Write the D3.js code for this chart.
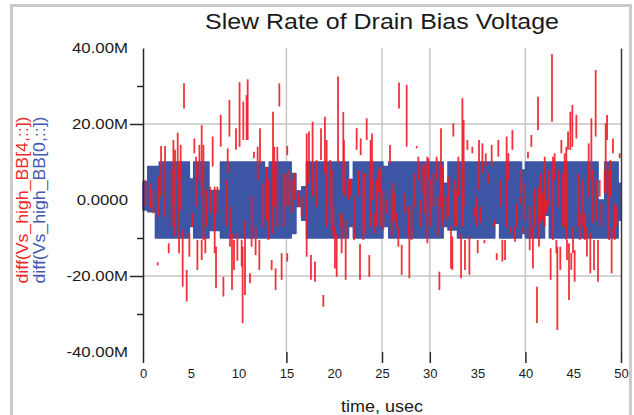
<!DOCTYPE html>
<html>
<head>
<meta charset="utf-8">
<script src="https://cdn.jsdelivr.net/npm/d3@7"></script>
<style>
  body { margin: 0; background: #fff; }
  svg { display: block; font-family: Arial, "Liberation Sans", sans-serif; }
</style>
</head>
<body>
<div id="chart"></div>
<script>
// time in usec, values in M (x1e6)
const xTickLabels = [0, 5, 10, 15, 20, 25, 30, 35, 40, 45, 50];
const xTickMarks = [0, 15, 25, 30, 40, 50];
const xGrid = [15, 25, 30, 40];
const yLabelTicks = [40, 20, 0, -20, -40];
const yLabelText = ["40.00M", "20.00M", "0.0000", "-20.00M", "-40.00M"];
const yMajor = [20, -20];
const yMinor = [30, -10, -30];
const yGrid = [20, -20];

// diff(Vs_high_BB[0,::]) - envelope of the dense blue trace
const blueT  = [0, 0.5, 1.3, 1.7, 4.85, 5.3, 6.9, 8.1, 12.7, 13.2, 15.5, 16.0, 16.6, 17.1, 21.5, 22.0, 25.1, 25.7, 31.4, 31.9, 32.9, 36.8, 37.3, 39.6, 40.0, 42.0, 42.5, 47.6, 48.3, 49.7, 50];
const blueHi = [4.8, 8.8, 8.8, 10, 5.5, 10, 2.5, 10, 8.5, 10, 7.0, 2.4, 3.5, 10, 5.3, 10, 8.8, 10, 4.4, 10, 10, 10, 10, 7.9, 10, 10, 10, 0, 10, 4.4, 4.4];
const blueLo = [-2.6, -3.1, -10, -10, -7, -10, -8, -10, -10, -10, -8.8, -1.7, -5.3, -10, -7, -10, -7, -10, -7, -7.9, -10, -6.1, -10, -8.8, -10, -4, -10, -10, -10, -5.3, -5.3];

// diff(Vs_high_BB[4,::]) - red spikes: time, top, bottom
const redT = [0.25, 0.74, 1.08, 1.54, 1.61, 1.89, 2.31, 2.69, 3.0, 3.18, 3.35, 3.63, 3.77, 3.94, 4.15, 4.29, 4.57, 4.85, 5.16, 5.37,
  5.55, 5.69, 5.9, 6.14, 6.14, 6.32, 6.52, 6.66, 7.01, 7.29, 7.5, 7.64, 7.78, 8.13, 8.41, 8.69, 8.86, 9.04, 9.1, 9.31,
  9.52, 9.73, 9.87, 10.1, 10.32, 10.42, 10.49, 10.67, 10.84, 10.95, 11.19, 11.36, 11.61, 11.78, 11.99, 12.17, 12.24, 12.58, 12.93, 13.11,
  13.46, 13.6, 13.73, 13.87, 14.05, 14.26, 14.5, 14.71, 14.92, 15.09, 15.09, 15.3, 15.55, 15.83, 16.25, 16.59, 17.12, 17.36, 17.57, 17.74,
  17.99, 18.16, 18.62, 18.86, 19.03, 19.21, 19.56, 19.73, 19.91, 20.08, 20.26, 20.4, 20.61, 20.78, 20.95, 21.02, 21.2, 21.48, 21.72, 22.07,
  22.35, 22.52, 22.7, 22.77, 23.05, 23.22, 23.4, 23.67, 23.81, 23.95, 24.16, 24.44, 24.62, 24.79, 25.14, 25.42, 25.84, 26.01, 26.19, 26.36,
  26.53, 26.71, 26.78, 27.06, 27.41, 27.58, 27.75, 27.86, 28.1, 28.45, 28.63, 28.8, 28.97, 29.15, 29.5, 29.74, 29.85, 30.13, 30.37, 30.72,
  30.83, 31.0, 31.17, 31.31, 31.66, 31.94, 32.22, 32.36, 32.46, 32.64, 32.81, 32.99, 33.27, 33.41, 33.54, 33.68, 33.93, 34.14, 34.45, 34.73,
  34.9, 35.01, 35.15, 35.29, 35.5, 35.71, 35.85, 36.13, 36.47, 36.75, 37.0, 37.17, 37.45, 37.59, 37.87, 38.04, 38.22, 38.39, 38.64, 38.91,
  39.09, 39.44, 39.57, 39.79, 39.82, 40.27, 40.45, 40.62, 40.79, 40.97, 41.21, 41.32, 41.42, 41.56, 41.77, 42.02, 42.19, 42.47, 42.64, 42.78,
  42.89, 43.06, 43.24, 43.34, 43.51, 43.65, 43.76, 43.93, 44.11, 44.28, 44.35, 44.46, 44.56, 44.7, 44.8, 44.91, 44.98, 45.15, 45.33, 45.5,
  45.68, 46.03, 46.2, 46.44, 46.62, 46.79, 46.9, 47.07, 47.18, 47.35, 47.49, 47.59, 47.77, 47.94, 48.29, 48.4, 48.54, 48.75, 48.88, 49.02,
  49.16, 49.34, 49.58, 49.86];
const redHi = [5.3, 4.4, 2.6, -16.4, 6.1, 14.2, 14.2, -11.4, 7.9, 15.8, 13.2, 17.7, 9.7, 14.5, -7.9, 30.7, -18.4, -8.8, -3.5, 16.2,
  11.4, -10.5, 14.5, 19.7, -10.5, 14.5, -9.6, 2.6, 3.5, 16.7, 3.5, -12.3, 3.5, 22.4, -20.2, 5.3, 13.6, 26.3, -1.75, -8.8,
  -10.5, 18.9, -8.8, 31.0, -10.5, -12.3, 25.9, -5.3, 27.6, 31.75, -19.3, 0.9, 12.7, -7.0, 14.0, -10.5, 18.9, 4.4, 8.8, 5.3,
  -15.8, 23.2, 14.0, -18.0, 14.0, 30.7, -14.0, 7.0, 7.0, 14.2, -14.0, 7.9, 5.3, 7.0, 2.6, 0.9, 17.5, 18.0, -14.5, 20.6,
  -16.2, 10.5, 18.9, -25.0, 21.9, 15.8, 10.5, 7.9, -1.75, -7.0, -8.8, 32.5, -3.5, -3.5, 23.2, 15.8, -5.3, 5.3, 5.7, 0.9,
  18.9, 7.9, -11.6, 16.2, 7.0, 7.0, 21.5, -14.5, 15.8, 17.5, -3.5, 5.3, 7.9, 8.8, 2.6, 0, 14.5, 2.6, 4.4, 1.8,
  -3.5, -7.0, 30.9, -11.8, 1.8, 30.3, -1.75, -7.0, -1.75, 7.0, 14.2, 11.4, 0, 8.8, 9.7, 11.4, 11.0, 5.3, 7.0, 11.4,
  0.9, -18.85, 18.9, 8.8, 0.9, 6.1, -7.0, -9.6, 20.2, 5.3, 2.6, 11.4, -8.8, 26.8, 21.1, -10.5, 15.8, -9.6, 14.0, -1.75,
  0.9, -10.5, 15.8, -1.75, 14.9, -10.5, 12.3, 7.0, 14.5, -5.3, -14.0, 15.8, 5.3, -10.5, -10.5, 16.7, 12.3, -7.0, 18.4, -7.0,
  -0.9, 0.9, 7.9, -7.0, 4.4, 12.7, -1.75, 17.1, -7.0, 3.1, -22.8, 27.2, 3.5, 7.0, 1.8, 11.4, 0, 7.9, -12.7, 38.4,
  11.4, 12.3, -10.5, -12.3, 7.9, -12.3, 15.8, 7.0, 12.3, 14.0, -10.5, 18.0, -11.4, 23.2, -14.0, 25.0, -7.0, -13.2, 22.4, 7.0,
  -3.5, 5.3, -3.5, -7.0, 14.9, -8.8, 21.5, 7.9, -10.5, 34.2, 5.3, -10.5, 5.3, -0.9, 7.9, 20.2, 22.4, 7.9, 10.5, -7.0,
  16.2, -0.9, -1.75, 12.3];
const redLo = [-1.75, -2.2, -3.5, -17.2, -4.4, 0.9, -4.4, -14.0, -7.0, -0.9, -9.6, 5.3, -14.0, -2.6, -22.8, 24.1, -26.7, -14.9, -7.0, 12.3,
  -1.75, -18.4, 5.3, 0.9, -15.8, -10.5, -14.0, -7.0, -3.5, 8.8, -14.0, -23.2, -3.5, 14.0, -25.4, -7.0, 7.0, 16.7, -12.3, -23.7,
  -18.4, 13.2, -16.0, 14.0, -17.5, -32.4, 15.8, -25.0, 15.8, 15.8, -21.9, -12.3, 11.0, -14.5, 5.3, -18.4, 9.7, -7.0, -5.3, -10.5,
  -18.4, -8.8, -1.75, -23.7, -7.0, 24.6, -21.0, -7.0, -1.75, 11.8, -16.2, -1.75, -3.5, 0, -1.75, -4.4, -14.9, 4.4, -21.0, 0.9,
  -21.5, -1.75, 10.5, -28.1, 7.0, -7.0, -1.75, -7.9, -9.6, -18.0, -20.2, 9.7, -7.0, -14.0, 1.8, 0.9, -21.0, 0, 0.9, -10.5,
  13.2, 0.9, -21.0, 11.8, -10.5, -8.8, 15.8, -20.2, -7.0, 0, -8.8, -7.0, 1.8, -7.0, -7.9, -3.5, 9.7, -9.6, -6.1, -5.3,
  -7.0, -12.3, 24.1, -19.7, -3.5, 14.0, -9.6, -20.6, -10.5, -1.75, 13.6, 5.3, -7.0, 1.8, -3.5, -11.4, 5.3, -7.0, -1.75, 5.3,
  -9.6, -23.7, -1.75, -7.0, -5.3, -4.4, -18.0, -18.4, 16.7, -7.0, -7.0, 0.9, -20.6, -7.0, -1.75, -18.4, 13.2, -19.7, 12.3, -4.4,
  -7.0, -14.0, 2.6, -6.1, 7.0, -11.4, 8.8, 4.4, 8.8, -7.0, -15.8, 11.4, -1.75, -16.2, -15.8, -7.0, 5.3, -8.8, 13.2, -11.0,
  -7.0, -0.9, 1.8, -8.8, -5.3, 11.0, -13.2, 14.0, -18.0, -7.0, -32.4, 18.4, -12.3, -6.1, -5.3, -7.0, -3.5, -1.75, -21.0, 20.6,
  -10.5, 5.3, -14.0, -34.2, -1.75, -18.4, 12.3, -7.0, -7.0, -10.5, -15.8, 13.2, -26.3, 13.2, -18.4, 14.0, -14.0, -21.5, 16.2, -7.0,
  -10.5, -7.0, -10.5, -14.9, 0.9, -19.3, 5.3, -6.1, -18.4, 16.7, -5.3, -21.5, 0.9, -7.0, 1.8, 1.8, 15.8, -10.5, 0.9, -19.3,
  12.3, -10.5, -7.0, 11.0];

const W = 634, H = 415;
const margin = { top: 48, right: 13, bottom: 63, left: 143 };
const width = W - margin.left - margin.right,
    height = H - margin.top - margin.bottom;

const svg = d3.select("#chart").append("svg")
    .attr("width", W)
    .attr("height", H);

// light outer frame
svg.append("rect")
    .attr("x", 11.5).attr("y", 5.5)
    .attr("width", 619).attr("height", 430)
    .attr("fill", "none")
    .attr("stroke", "#cbcbcb")
    .attr("stroke-width", 3);

const g = svg.append("g")
    .attr("transform", `translate(${margin.left},${margin.top})`);

const x = d3.scaleLinear().domain([0, 50]).range([0, width]);
const y = d3.scaleLinear().domain([-40, 40]).range([height, 0]);

// grid
g.append("g").selectAll("line").data(xGrid).join("line")
    .attr("x1", d => x(d)).attr("x2", d => x(d))
    .attr("y1", 0).attr("y2", height)
    .attr("stroke", "#c6c6c6").attr("stroke-width", 1.5);
g.append("g").selectAll("line").data(yGrid).join("line")
    .attr("x1", 0).attr("x2", width)
    .attr("y1", d => y(d)).attr("y2", d => y(d))
    .attr("stroke", "#c6c6c6").attr("stroke-width", 1.5);

// blue trace band
const blueData = blueT.map((t, i) => ({ t: t, hi: blueHi[i], lo: blueLo[i] }));
const area = d3.area()
    .curve(d3.curveStepAfter)
    .x(d => x(d.t))
    .y0(d => y(d.lo))
    .y1(d => y(d.hi));
g.append("path")
    .datum(blueData)
    .attr("d", area)
    .attr("fill", "#3c55a5")
    .attr("stroke", "#3c55a5")
    .attr("stroke-width", 1.5)
    .attr("stroke-linejoin", "round");

// red spikes
const redData = redT.map((t, i) => ({ t: t, hi: redHi[i], lo: redLo[i] }));
g.append("g").selectAll("line").data(redData).join("line")
    .attr("x1", d => x(d.t)).attr("x2", d => x(d.t))
    .attr("y1", d => y(d.hi)).attr("y2", d => y(d.lo))
    .attr("stroke", "#ee1c25")
    .attr("stroke-width", 1.8)
    .attr("stroke-opacity", 0.9);

// axes
const axisColor = "#262626";

const xTicks = g.append("g")
    .attr("transform", `translate(0,${height})`)
    .call(d3.axisBottom(x).tickValues(xTickMarks).tickSize(11).tickFormat(""));
xTicks.select(".domain").remove();
xTicks.selectAll("line").attr("stroke", axisColor).attr("stroke-width", 1.5);

const xLabels = g.append("g")
    .attr("transform", `translate(0,${height})`)
    .call(d3.axisBottom(x).tickValues(xTickLabels).tickSize(0).tickPadding(17));
xLabels.select(".domain").remove();
xLabels.selectAll("text")
    .attr("font-size", 13)
    .attr("fill", "#1a1a1a")
    .style("font-family", "Arial, 'Liberation Sans', sans-serif");

const yAxis = g.append("g")
    .call(d3.axisLeft(y).tickValues(yMajor).tickSize(13).tickSizeOuter(0).tickFormat(""));
yAxis.select(".domain").attr("stroke", axisColor).attr("stroke-width", 1.5);
yAxis.selectAll("line").attr("stroke", axisColor).attr("stroke-width", 1.5);

const yMinorAxis = g.append("g")
    .call(d3.axisLeft(y).tickValues(yMinor).tickSize(6).tickFormat(""));
yMinorAxis.select(".domain").remove();
yMinorAxis.selectAll("line").attr("stroke", axisColor).attr("stroke-width", 1.5);

const yLabels = g.append("g")
    .call(d3.axisLeft(y).tickValues(yLabelTicks).tickSize(0).tickPadding(15)
        .tickFormat((d, i) => yLabelText[i]));
yLabels.select(".domain").remove();
yLabels.selectAll("text")
    .attr("x", null)
    .attr("transform", "translate(-15,0) scale(1.2,1)")
    .attr("font-size", 14)
    .attr("fill", "#1a1a1a")
    .style("font-family", "Arial, 'Liberation Sans', sans-serif");

const rightAxis = g.append("g")
    .attr("transform", `translate(${width},0)`)
    .call(d3.axisRight(y).tickValues([]).tickSizeOuter(0));
rightAxis.select(".domain").attr("stroke", "#3a3a3a").attr("stroke-width", 1.5);

// titles
svg.append("text")
    .attr("x", margin.left + width / 2)
    .attr("y", 29)
    .attr("text-anchor", "middle")
    .attr("font-size", 22)
    .attr("textLength", 354)
    .attr("lengthAdjust", "spacingAndGlyphs")
    .attr("fill", "#1a1a1a")
    .text("Slew Rate of Drain Bias Voltage");

svg.append("text")
    .attr("x", margin.left + width / 2)
    .attr("y", 412)
    .attr("text-anchor", "middle")
    .attr("font-size", 16)
    .attr("textLength", 82)
    .attr("lengthAdjust", "spacingAndGlyphs")
    .attr("fill", "#1a1a1a")
    .text("time, usec");

const seriesLabels = [
    { text: "diff(Vs_high_BB[4,::])", color: "#ee2a2a", x: 28 },
    { text: "diff(Vs_high_BB[0,::])", color: "#4259b0", x: 45 }
];
svg.append("g").selectAll("text").data(seriesLabels).join("text")
    .attr("transform", d => `translate(${d.x},${margin.top + y(0)}) rotate(-90)`)
    .attr("text-anchor", "middle")
    .attr("font-size", 16)
    .attr("textLength", 167)
    .attr("lengthAdjust", "spacingAndGlyphs")
    .attr("fill", d => d.color)
    .text(d => d.text);
</script>
</body>
</html>
